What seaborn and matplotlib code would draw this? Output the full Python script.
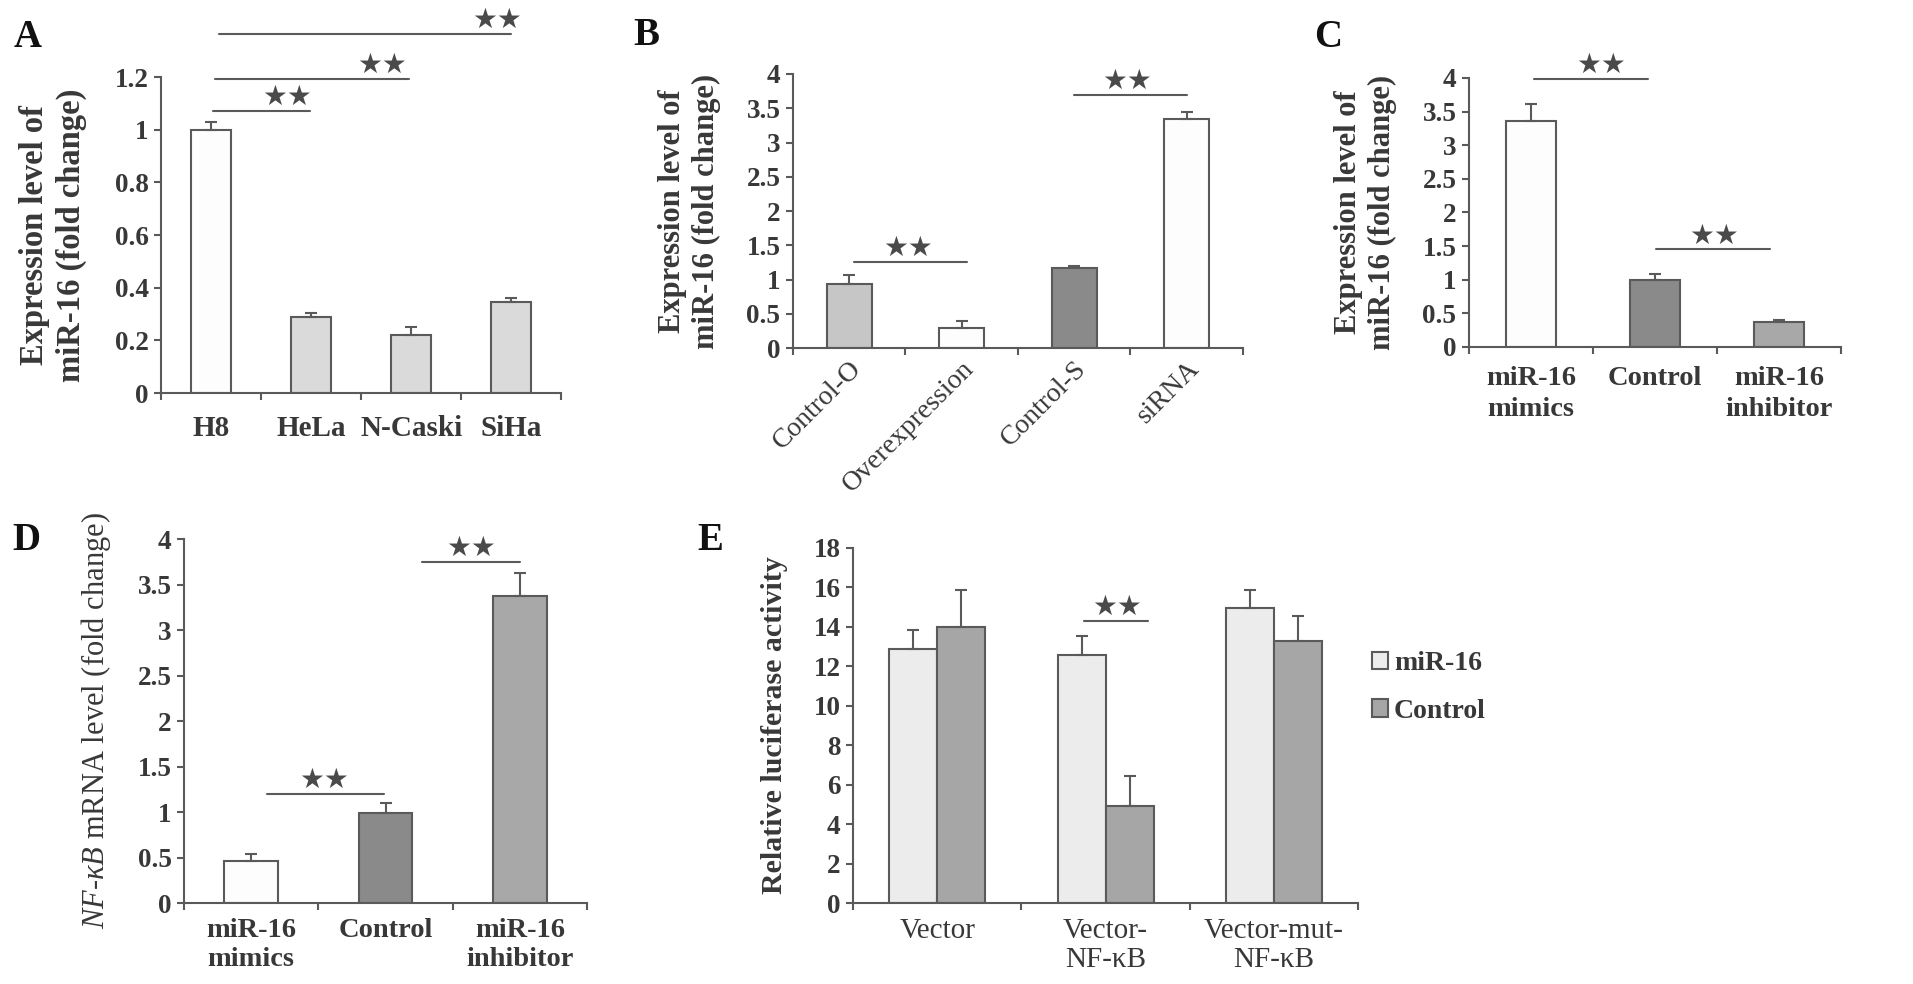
import numpy as np
import pandas as pd
import seaborn as sns
import matplotlib.pyplot as plt
from matplotlib.ticker import FuncFormatter

# panel A
a_cats = ['H8', 'HeLa', 'N-Caski', 'SiHa']
a_vals = [1.0, 0.29, 0.22, 0.345]
a_err = [0.03, 0.015, 0.03, 0.017]
a_colors = ['#fdfdfd', '#dadada', '#dadada', '#dadada']

# panel B
b_cats = ['Control-O', 'Overexpression', 'Control-S', 'siRNA']
b_vals = [0.94, 0.29, 1.17, 3.35]
b_err = [0.12, 0.10, 0.03, 0.09]
b_colors = ['#c6c6c6', '#fdfdfd', '#8a8a8a', '#fdfdfd']

# panel C
c_cats = ['miR-16\nmimics', 'Control', 'miR-16\ninhibitor']
c_vals = [3.36, 0.99, 0.37]
c_err = [0.25, 0.10, 0.025]
c_colors = ['#fdfdfd', '#8a8a8a', '#a8a8a8']

# panel D
d_cats = ['miR-16\nmimics', 'Control', 'miR-16\ninhibitor']
d_vals = [0.466, 0.994, 3.376]
d_err = [0.07, 0.11, 0.25]
d_colors = ['#fdfdfd', '#8a8a8a', '#a8a8a8']

# panel E
e_groups = ['Vector', 'Vector-\nNF-κB', 'Vector-mut-\nNF-κB']
e_conds = ['miR-16', 'Control']
e_mir = [12.88, 12.59, 14.96]
e_mir_err = [0.95, 0.96, 0.93]
e_ctrl = [14.01, 4.90, 13.30]
e_ctrl_err = [1.88, 1.55, 1.23]
e_colors = ['#ececec', '#a6a6a6']

# significance bars: (x start, x end, y, star x)
a_sig = [(0.02, 0.99, 1.07, 0.76), (0.04, 1.98, 1.193, 1.71), (0.08, 3.0, 1.364, 2.86)]
b_sig = [(0.04, 1.05, 1.26, 0.52), (2.0, 3.0, 3.7, 2.47)]
c_sig = [(0.025, 0.94, 3.985, 0.565), (1.006, 1.93, 1.45, 1.48)]
d_sig = [(0.12, 0.99, 1.2, 0.54), (1.27, 2.0, 3.747, 1.64)]
e_sig = [(0.87, 1.25, 14.31, 1.07)]

sns.set_theme(style='white')
plt.rcParams['font.family'] = ['Liberation Serif', 'DejaVu Sans']
plt.rcParams['mathtext.fontset'] = 'custom'
plt.rcParams['mathtext.it'] = 'Liberation Serif:italic'
plt.rcParams['mathtext.rm'] = 'Liberation Serif'

TXT = '#383838'
LINE = '#5a5a5a'

fig = plt.figure(figsize=(19.13, 9.84), dpi=100)
axA = fig.add_axes([0.0842, 0.6006, 0.2091, 0.3211])
axB = fig.add_axes([0.4145, 0.6463, 0.2352, 0.2785])
axC = fig.add_axes([0.7679, 0.6474, 0.1945, 0.2734])
axD = fig.add_axes([0.0962, 0.0823, 0.2107, 0.3699])
axE = fig.add_axes([0.4459, 0.0823, 0.2640, 0.3608])


def bars(ax, cats, vals, colors):
    sns.barplot(x=cats, y=vals, hue=cats, palette=colors, legend=False,
                width=0.4, saturation=1, edgecolor=LINE, linewidth=1.5,
                errorbar=None, ax=ax)


def add_errors(ax, errs):
    rects = [r for c in ax.containers for r in c]
    xs = [r.get_x() + r.get_width() / 2 for r in rects]
    ys = [r.get_height() for r in rects]
    ax.errorbar(xs, ys, yerr=[np.zeros(len(errs)), errs], fmt='none',
                ecolor=LINE, elinewidth=1.5, capsize=4.5, capthick=1.5, zorder=5)


def style(ax, n, labels, ymax, ystep, tsize=20, weight='bold', pad=14, ls=1.3):
    for s in ['top', 'right']:
        ax.spines[s].set_visible(False)
    for s in ['left', 'bottom']:
        ax.spines[s].set_color(LINE)
        ax.spines[s].set_linewidth(1.5)
    ax.set_xlim(-0.5, n - 0.5)
    ax.set_ylim(0, ymax)
    ax.set_yticks(np.arange(0, ymax + ystep / 2, ystep))
    ax.yaxis.set_major_formatter(FuncFormatter(lambda v, p: f'{v:g}'))
    ax.set_xticks(np.arange(n + 1) - 0.5)
    ax.set_xticklabels([])
    ax.set_xticks(np.arange(n), labels=labels, minor=True)
    ax.tick_params(axis='both', which='major', direction='out', length=5,
                   width=1.5, color=LINE, left=True, bottom=True)
    ax.tick_params(axis='y', labelsize=19.5, labelcolor=TXT, pad=4)
    ax.tick_params(axis='x', which='minor', length=0, labelsize=tsize,
                   labelcolor=TXT, pad=pad)
    for lbl in ax.get_yticklabels():
        lbl.set_fontweight('bold')
    for lbl in ax.get_xticklabels(minor=True):
        lbl.set_fontweight(weight)
        lbl.set_linespacing(ls)
    ax.set_xlabel('')


def add_sig(ax, sig):
    for x0, x1, y, xs in sig:
        ax.plot([x0, x1], [y, y], color=LINE, lw=1.5, clip_on=False, zorder=6)
        ax.text(xs, y, '★★', ha='center', va='bottom', fontsize=20,
                color='#4a4a4a', family='DejaVu Sans', clip_on=False)


# A
bars(axA, a_cats, a_vals, a_colors)
add_errors(axA, a_err)
style(axA, 4, a_cats, 1.2, 0.2, tsize=21, pad=16)
add_sig(axA, a_sig)
axA.set_ylabel('Expression level of\nmiR-16 (fold change)', fontsize=23.5,
               fontweight='bold', color=TXT, labelpad=20, linespacing=1.25)

# B
bars(axB, b_cats, b_vals, b_colors)
add_errors(axB, b_err)
style(axB, 4, b_cats, 4, 0.5, tsize=20, weight='normal')
for lbl in axB.get_xticklabels(minor=True):
    lbl.set_rotation(45)
    lbl.set_ha('right')
    lbl.set_rotation_mode('anchor')
axB.tick_params(axis='x', which='minor', pad=6)
add_sig(axB, b_sig)
axB.set_ylabel('Expression level of\nmiR-16 (fold change)', fontsize=22,
               fontweight='bold', color=TXT, labelpad=18, linespacing=1.25)

# C
bars(axC, c_cats, c_vals, c_colors)
add_errors(axC, c_err)
style(axC, 3, c_cats, 4, 0.5, tsize=20.5, weight='bold', pad=14)
add_sig(axC, c_sig)
axC.set_ylabel('Expression level of\nmiR-16 (fold change)', fontsize=22,
               fontweight='bold', color=TXT, labelpad=18, linespacing=1.25)

# D
bars(axD, d_cats, d_vals, d_colors)
add_errors(axD, d_err)
style(axD, 3, d_cats, 4, 0.5, tsize=20.5, weight='bold', pad=11, ls=1.2)
add_sig(axD, d_sig)
axD.set_ylabel(r'$\mathit{NF}$-$\mathit{κB}$ mRNA level (fold change)', fontsize=22,
               color=TXT, labelpad=18)

# E
e_df = pd.DataFrame({
    'group': e_groups * 2,
    'cond': [e_conds[0]] * 3 + [e_conds[1]] * 3,
    'value': e_mir + e_ctrl,
})
sns.barplot(data=e_df, x='group', y='value', hue='cond', palette=e_colors,
            width=0.57, saturation=1, edgecolor=LINE, linewidth=1.5,
            errorbar=None, legend=False, ax=axE)
add_errors(axE, e_mir_err + e_ctrl_err)
style(axE, 3, e_groups, 18, 2, tsize=21, weight='normal', pad=11, ls=1.15)
add_sig(axE, e_sig)
axE.set_ylabel('Relative luciferase activity', fontsize=21.5, fontweight='bold',
               color=TXT, labelpad=18)
axE.legend(handles=[axE.containers[0][0], axE.containers[1][0]], labels=e_conds,
           loc='upper left', bbox_to_anchor=(0.717, 0.338), bbox_transform=fig.transFigure,
           frameon=False, handlelength=0.6, handleheight=0.6, handletextpad=0.2,
           labelspacing=0.8, borderpad=0, borderaxespad=0,
           prop={'size': 20, 'weight': 'bold'}, labelcolor=TXT)

# panel letters
for x, y, s in [(0.0073, 0.952, 'A'), (0.331, 0.954, 'B'), (0.687, 0.952, 'C'),
                (0.0063, 0.441, 'D'), (0.3643, 0.441, 'E')]:
    fig.text(x, y, s, fontsize=28, fontweight='bold', color='#111111',
             ha='left', va='baseline')

fig.savefig('out.png', dpi=100)
